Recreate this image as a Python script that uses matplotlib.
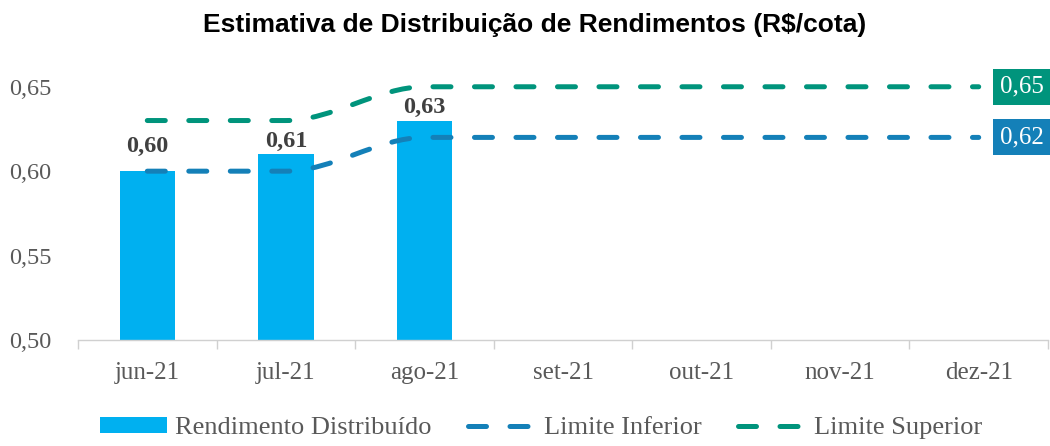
import matplotlib
matplotlib.use("Agg")
import matplotlib.pyplot as plt
from matplotlib.path import Path
from matplotlib.patches import PathPatch
from matplotlib.lines import Line2D
from matplotlib.patches import Patch

months = ["jun-21", "jul-21", "ago-21", "set-21", "out-21", "nov-21", "dez-21"]
rendimento = [0.60, 0.61, 0.63]
limite_inferior = [0.60, 0.60, 0.62, 0.62, 0.62, 0.62, 0.62]
limite_superior = [0.63, 0.63, 0.65, 0.65, 0.65, 0.65, 0.65]
yticks = [0.50, 0.55, 0.60, 0.65]

C_BAR = "#00B0F0"
C_INF = "#1480B8"
C_SUP = "#00947C"
C_TXT = "#595959"
SERIF = ["Liberation Serif", "DejaVu Serif"]
DASH = (0, (3.6, 4.7))

fig = plt.figure(figsize=(10.5, 4.46), dpi=100)
ax = fig.add_axes([78/1050, 1-340/446, (1048-78)/1050, (340-53)/446])

x = list(range(len(months)))
ax.bar(x[:len(rendimento)], rendimento, width=0.4, color=C_BAR, zorder=2)
label_offsets = [10, 1.5, 1.5]
for xi, v, off in zip(x, rendimento, label_offsets):
    ax.annotate(f"{v:.2f}".replace(".", ","), (xi, v), xytext=(0, off),
                textcoords="offset points", ha="center", va="bottom",
                fontsize=17.5, fontweight="bold", color="#404040", family=SERIF,
                zorder=4)


def smooth_path(xs, ys):
    verts = [(xs[0], ys[0])]
    codes = [Path.MOVETO]
    for i in range(len(xs) - 1):
        dx = xs[i+1] - xs[i]
        verts += [(xs[i] + dx/3, ys[i]), (xs[i+1] - dx/3, ys[i+1]), (xs[i+1], ys[i+1])]
        codes += [Path.CURVE4] * 3
    return Path(verts, codes)


for ys, col in [(limite_inferior, C_INF), (limite_superior, C_SUP)]:
    p = PathPatch(smooth_path(x, ys), fill=False, edgecolor=col, lw=3.6,
                  linestyle=DASH, capstyle="round", zorder=3)
    ax.add_patch(p)

for ys, col in [(limite_superior, C_SUP), (limite_inferior, C_INF)]:
    v = ys[-1]
    ax.annotate(f"{v:.2f}".replace(".", ","), (x[-1], v), xytext=(15, 0),
                textcoords="offset points", ha="left", va="center",
                fontsize=18, color="white", family=SERIF, zorder=5,
                bbox=dict(boxstyle="square,pad=0.28", fc=col, ec="none"))

ax.set_xlim(-0.5, len(months) - 0.5)
ax.set_ylim(0.50, 0.67)
ax.set_yticks(yticks)
ax.set_yticklabels([f"{t:.2f}".replace(".", ",") for t in yticks])
ax.set_xticks(x)
ax.set_xticklabels(months)
ax.set_xticks([i - 0.5 for i in range(len(months) + 1)], minor=True)
ax.tick_params(axis="x", which="major", length=0, pad=16, labelsize=18, labelcolor=C_TXT)
ax.tick_params(axis="x", which="minor", length=6.5, color="#D0D0D0", width=1)
ax.tick_params(axis="y", length=0, pad=19, labelsize=17.5, labelcolor=C_TXT)
for lab in ax.get_xticklabels() + ax.get_yticklabels():
    lab.set_family(SERIF)
for s in ["top", "right", "left"]:
    ax.spines[s].set_visible(False)
ax.spines["bottom"].set_color("#D0D0D0")
ax.spines["bottom"].set_linewidth(1)

fig.text(535/1050, 1-25/446, "Estimativa de Distribuição de Rendimentos (R$/cota)",
         ha="center", va="center", fontsize=19, fontweight="bold",
         family="Liberation Sans", color="black")

handles = [
    Patch(facecolor=C_BAR, edgecolor="none", label="Rendimento Distribuído"),
    Line2D([], [], color=C_INF, lw=3.6, linestyle=DASH,
           dash_capstyle="round", label="Limite Inferior"),
    Line2D([], [], color=C_SUP, lw=3.6, linestyle=DASH,
           dash_capstyle="round", label="Limite Superior"),
]
leg = fig.legend(handles=handles, loc="center", bbox_to_anchor=(0.515, 1-428/446),
                 ncol=3, frameon=False, handlelength=2.55, handleheight=0.6,
                 columnspacing=1.4, handletextpad=0.3,
                 prop={"family": SERIF, "size": 19})
for t in leg.get_texts():
    t.set_color(C_TXT)

fig.savefig("out.png", dpi=100)
